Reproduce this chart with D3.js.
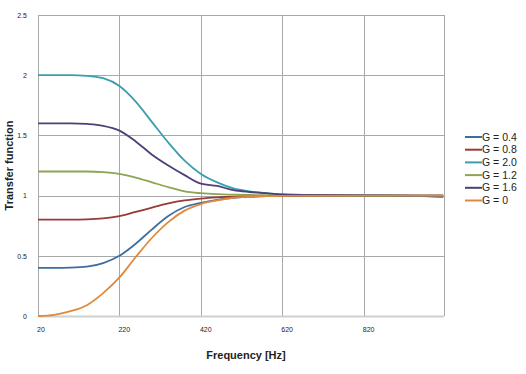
<!DOCTYPE html>
<html>
<head lang="en">
  <meta charset="UTF-8">
  <title>Transfer function</title>
</head>
<style>
  body { margin: 0; background: #fff; }
  #chart text { font-family: "Liberation Sans", Arial, sans-serif; fill: #222; }
  .grid line { stroke: #a8a8a8; stroke-width: 1; }
</style>
<body>

<svg id="chart"></svg>

<script src="https://cdn.jsdelivr.net/npm/d3@7"></script>
<script>
  var freqs = [20, 60, 100, 140, 180, 220, 260, 300, 340, 380, 420, 460, 500, 540, 580, 620, 720, 820, 920, 1015];

  var g04 = [0.40, 0.40, 0.402, 0.41, 0.44, 0.50, 0.60, 0.72, 0.83, 0.905, 0.94, 0.965, 0.982, 0.99, 0.995, 0.997, 1.0, 1.0, 1.0, 0.99];
  var g08 = [0.80, 0.80, 0.80, 0.802, 0.81, 0.83, 0.865, 0.90, 0.935, 0.96, 0.975, 0.985, 0.992, 0.995, 0.997, 0.998, 1.0, 1.0, 1.0, 1.0];
  var g20 = [2.0, 2.0, 2.0, 1.995, 1.975, 1.91, 1.78, 1.61, 1.44, 1.29, 1.18, 1.11, 1.06, 1.035, 1.02, 1.01, 1.005, 1.002, 1.0, 0.99];
  var g12 = [1.2, 1.2, 1.2, 1.2, 1.195, 1.18, 1.15, 1.11, 1.07, 1.035, 1.02, 1.012, 1.008, 1.005, 1.003, 1.002, 1.0, 1.0, 1.0, 1.0];
  var g16 = [1.6, 1.6, 1.6, 1.595, 1.58, 1.54, 1.45, 1.34, 1.25, 1.17, 1.10, 1.08, 1.045, 1.03, 1.02, 1.01, 1.005, 1.002, 1.0, 1.0];
  var g00 = [0.0, 0.01, 0.04, 0.09, 0.19, 0.32, 0.49, 0.65, 0.78, 0.875, 0.93, 0.96, 0.982, 0.99, 0.995, 0.997, 1.0, 1.0, 1.0, 1.0];

  var seriesNames = ['G = 0.4', 'G = 0.8', 'G = 2.0', 'G = 1.2', 'G = 1.6', 'G = 0'];
  var seriesValues = [g04, g08, g20, g12, g16, g00];
  var seriesColors = ['#3d6e9f', '#973a38', '#3b9db0', '#8ca454', '#4f3f78', '#e0893c'];

  var xTicks = [20, 220, 420, 620, 820];
  var yTicks = [0, 0.5, 1, 1.5, 2, 2.5];

  var width = 526, height = 374;
  var plotLeft = 38, plotRight = 444, plotTop = 15, plotBottom = 316;

  var chart = d3.select('#chart')
    .attr('width', width)
    .attr('height', height);

  var x = d3.scaleLinear().domain([20, 1017]).range([plotLeft, plotRight]);
  var y = d3.scaleLinear().domain([0, 2.5]).range([plotBottom, plotTop]);

  // Grid lines
  var grid = chart.append('g').attr('class', 'grid');
  grid.selectAll('.h').data(yTicks).enter()
    .append('line')
    .attr('x1', plotLeft).attr('x2', plotRight)
    .attr('y1', function (d) { return Math.round(y(d)) + 0.5; })
    .attr('y2', function (d) { return Math.round(y(d)) + 0.5; });
  grid.selectAll('.v').data(xTicks.concat([1017])).enter()
    .append('line')
    .attr('y1', plotTop).attr('y2', plotBottom)
    .attr('x1', function (d) { return Math.round(x(d)) + 0.5; })
    .attr('x2', function (d) { return Math.round(x(d)) + 0.5; });

  // Bottom axis line (lighter and a bit thicker)
  chart.append('line')
    .attr('x1', plotLeft).attr('x2', plotRight)
    .attr('y1', plotBottom + 0.5).attr('y2', plotBottom + 0.5)
    .attr('stroke', '#d0d0d0').attr('stroke-width', 2);

  // Axes (labels only)
  var yAxis = chart.append('g')
    .attr('transform', 'translate(' + (plotLeft - 8) + ',0)')
    .call(d3.axisLeft(y).tickValues(yTicks).tickSize(0).tickFormat(d3.format('')));
  yAxis.select('.domain').remove();
  yAxis.selectAll('text').attr('font-size', 7).attr('fill', '#222');

  var xAxis = chart.append('g')
    .attr('transform', 'translate(0,' + (plotBottom + 8) + ')')
    .call(d3.axisBottom(x).tickValues(xTicks).tickSize(0).tickFormat(d3.format('')));
  xAxis.select('.domain').remove();
  xAxis.selectAll('text').attr('font-size', 7).attr('fill', '#222')
    .attr('text-anchor', 'start').attr('dx', -1.5);

  // Lines
  var line = d3.line()
    .x(function (d, i) { return x(freqs[i]); })
    .y(function (d) { return y(d); })
    .curve(d3.curveMonotoneX);

  chart.append('g').selectAll('path')
    .data(seriesValues).enter()
    .append('path')
    .attr('d', line)
    .attr('fill', 'none')
    .attr('stroke', function (d, i) { return seriesColors[i]; })
    .attr('stroke-width', 1.8);

  // Legend
  var legend = chart.append('g').selectAll('g')
    .data(seriesNames).enter()
    .append('g')
    .attr('transform', function (d, i) { return 'translate(465,' + (137 + i * 12.7) + ')'; });
  legend.append('line')
    .attr('x1', 0).attr('x2', 17)
    .attr('stroke', function (d, i) { return seriesColors[i]; })
    .attr('stroke-width', 2);
  legend.append('text')
    .attr('x', 17)
    .attr('dy', '0.35em')
    .attr('font-size', 10.5)
    .text(function (d) { return d; });

  // Axis titles
  chart.append('text')
    .attr('transform', 'translate(13,' + ((plotTop + plotBottom) / 2) + ') rotate(-90)')
    .attr('text-anchor', 'middle')
    .attr('font-size', 11)
    .attr('font-weight', 'bold')
    .text('Transfer function');

  chart.append('text')
    .attr('x', 246)
    .attr('y', 359)
    .attr('text-anchor', 'middle')
    .attr('font-size', 11)
    .attr('font-weight', 'bold')
    .text('Frequency [Hz]');
</script>
</body>
</html>
